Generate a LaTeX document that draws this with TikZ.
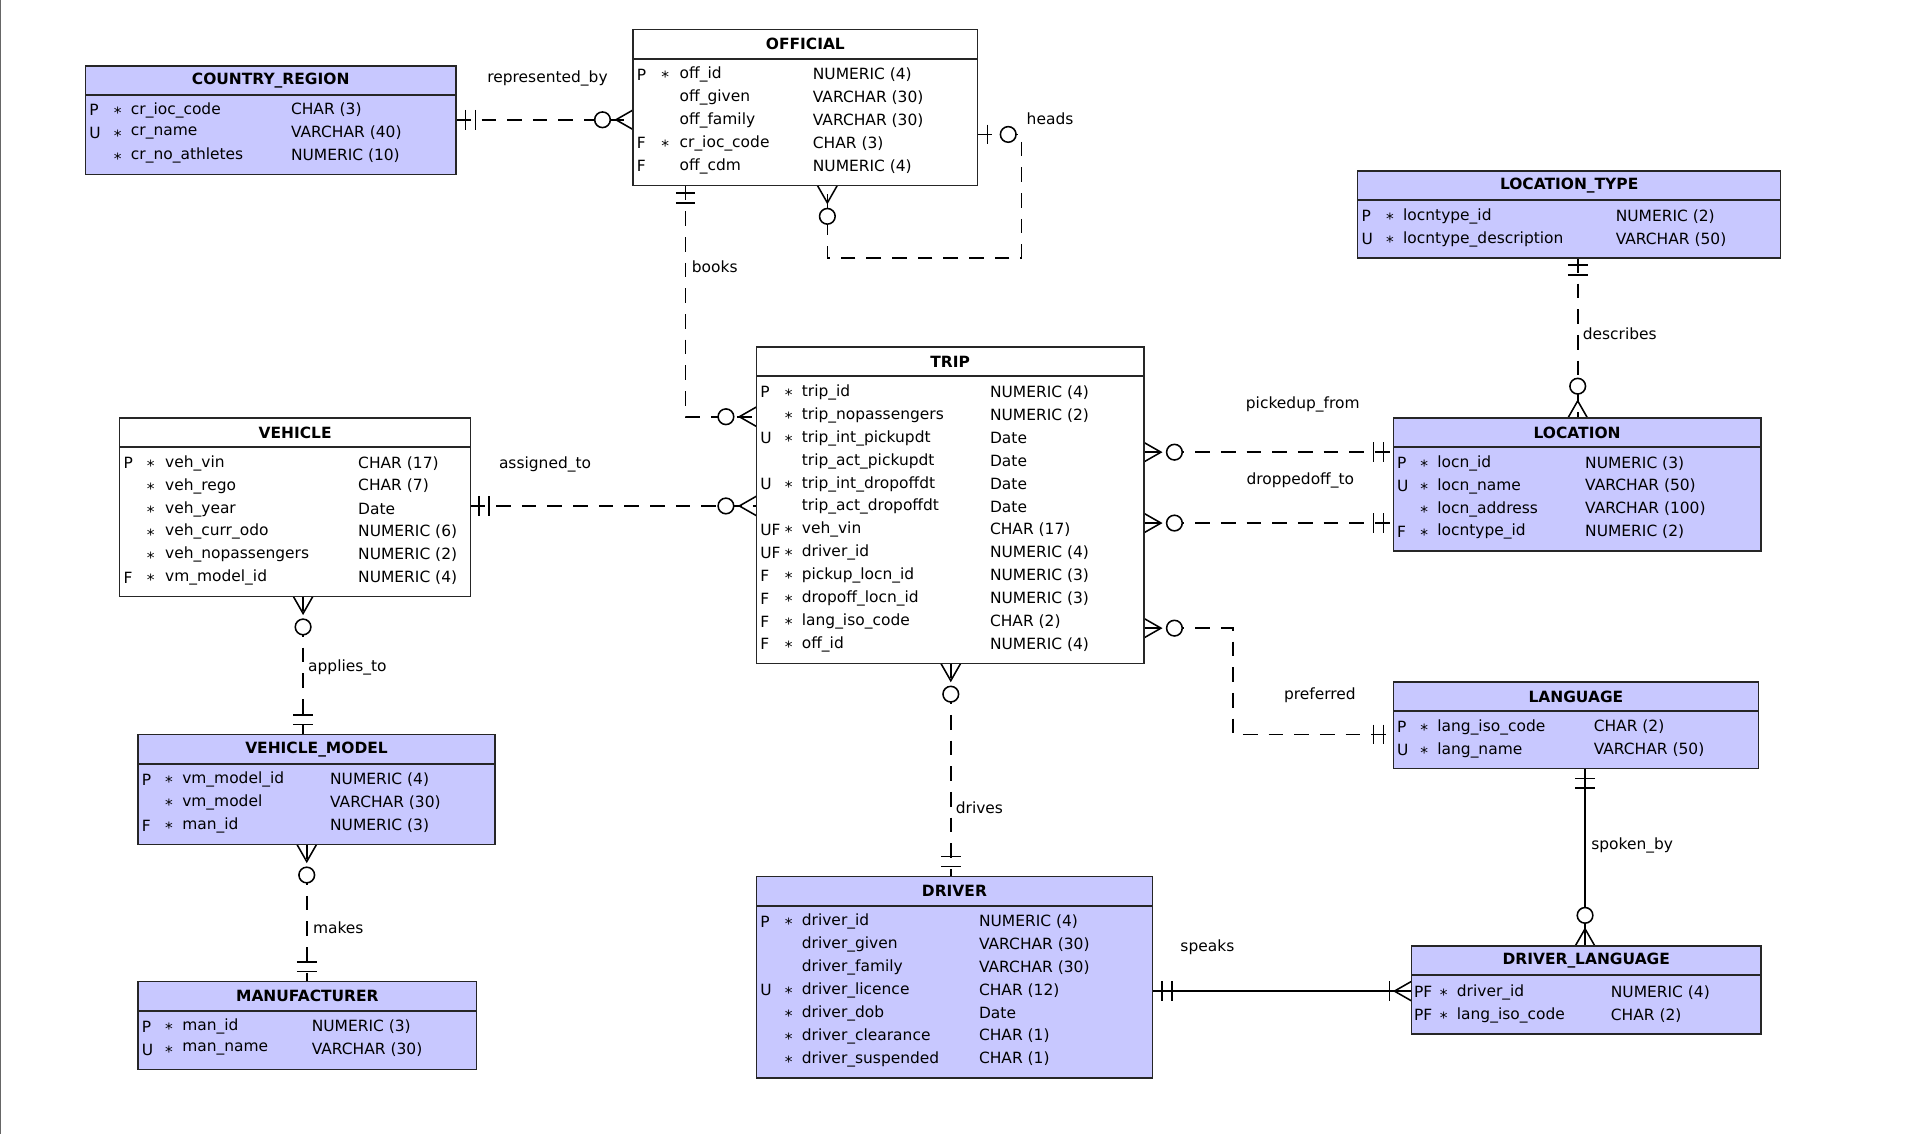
\documentclass[tikz,border=0pt]{standalone}
\usepackage{fontspec}
\setmainfont{DejaVu Sans}
\usetikzlibrary{fit}
\definecolor{ent}{RGB}{200,200,255}
\tikzset{
  box/.style={draw=black!85, line width=1.6pt, inner sep=0pt},
  txt/.style={anchor=west, inner sep=0pt, font=\fontsize{18}{20}\selectfont},
  ttl/.style={inner sep=0pt, font=\fontsize{18}{20}\selectfont\bfseries},
  rel/.style={line width=1.8pt, dash pattern=on 0.6cm off 0.45cm},
  sol/.style={line width=1.8pt},
  mk/.style={line width=1.8pt},
  lbl/.style={inner sep=0pt, font=\fontsize{18}{20}\selectfont},
}
\newcommand\ent[7]{%
  \node[box, fill=#7, fit={(#3,#4)(#5,#6)}] (#1) {};
  \draw[line width=2.4pt, black!85] (#3,#4+24) -- (#5,#4+24);
  \node[ttl] at ({(#3+#5)/2},#4+12) {#2};
}
\newcommand\rows[6]{%
  \foreach \f/\s/\n/\t [count=\i from 0] in {#6}{
    \node[txt] at (#1,#5+\i*18.75) {\f};
    \node[txt] at (#2,#5+\i*18.75+2) {\s};
    \node[txt] at (#3,#5+\i*18.75) {\n};
    \node[txt] at (#4,#5+\i*18.75) {\t};
  }%
}
\newcommand\crowH[3]{\draw[mk] (#1,#2-8) -- (#1+14*#3,#2) -- (#1,#2+8);}
\newcommand\crowV[3]{\draw[mk] (#1-8,#2) -- (#1,#2+14*#3) -- (#1+8,#2);}
\newcommand\rcirc[2]{\draw[mk, fill=white] (#1,#2) circle[radius=0.32cm];}
\newcommand\barH[2]{\draw[mk] (#1,#2-8) -- (#1,#2+8);}
\newcommand\barV[2]{\draw[mk] (#1-8,#2) -- (#1+8,#2);}
\begin{document}
\begin{tikzpicture}[x=0.05cm,y=-0.05cm]
\useasboundingbox (0,0) rectangle (1567,928);
\fill[white] (0,0) rectangle (1567,928);
\draw[black!60, line width=1pt] (0.5,0) -- (0.5,928);

% ---------- connectors ----------
% represented_by
\coordinate (rbA) at (373,98); \coordinate (rbB) at (518,98);
\draw[rel] (rbA) -- (rbB);
\barH{381}{98}\barH{389}{98}\crowH{518}{98}{-1}\rcirc{493}{98}
\node[lbl] at (448,64) {represented\_by};
% heads
\draw[rel] (800,110) -- (836,110) -- (836,211) -- (677,211) -- (677,152);
\barH{808}{110}\rcirc{825}{110}\crowV{677}{152}{1}\rcirc{677}{177}
\node[lbl,anchor=west] at (840,97) {heads};
% books
\draw[rel] (561,152) -- (561,341) -- (619,341);
\barV{561}{158}\barV{561}{166}\crowH{619}{341}{-1}\rcirc{594}{341}
\node[lbl,anchor=west] at (566,218) {books};
% assigned_to
\draw[rel] (385,414) -- (619,414);
\barH{392}{414}\barH{400}{414}\crowH{619}{414}{-1}\rcirc{594}{414}
\node[lbl] at (446,380) {assigned\_to};
% applies_to
\draw[rel] (248,488) -- (248,601);
\crowV{248}{488}{1}\rcirc{248}{513}\barV{248}{585}\barV{248}{593}
\node[lbl,anchor=west] at (252,546) {applies\_to};
% makes
\draw[rel] (251,691) -- (251,803);
\crowV{251}{691}{1}\rcirc{251}{716}\barV{251}{787}\barV{251}{795}
\node[lbl,anchor=west] at (256,759) {makes};
% describes
\draw[rel] (1291,211) -- (1291,342);
\barV{1291}{217}\barV{1291}{225}\rcirc{1291}{316}\crowV{1291}{342}{-1}
\node[lbl,anchor=west] at (1295,273) {describes};
% pickedup_from
\draw[rel] (936,370) -- (1140,370);
\crowH{936}{370}{1}\rcirc{961}{370}\barH{1124}{370}\barH{1132}{370}
\node[lbl] at (1066,331) {pickedup\_from};
% droppedoff_to
\draw[rel] (936,428) -- (1140,428);
\crowH{936}{428}{1}\rcirc{961}{428}\barH{1124}{428}\barH{1132}{428}
\node[lbl] at (1064,393) {droppedoff\_to};
% preferred
\draw[rel] (936,514) -- (1009,514) -- (1009,601) -- (1140,601);
\crowH{936}{514}{1}\rcirc{961}{514}\barH{1124}{601}\barH{1132}{601}
\node[lbl] at (1080,569) {preferred};
% drives
\draw[rel] (778,543) -- (778,717);
\crowV{778}{543}{1}\rcirc{778}{568}\barV{778}{701}\barV{778}{709}
\node[lbl,anchor=west] at (782,661) {drives};
% spoken_by
\draw[sol] (1297,629) -- (1297,774);
\barV{1297}{637}\barV{1297}{645}\rcirc{1297}{749}\crowV{1297}{774}{-1}
\node[lbl,anchor=west] at (1302,692) {spoken\_by};
% speaks
\draw[sol] (943,811) -- (1155,811);
\barH{951}{811}\barH{959}{811}\barH{1137}{811}\crowH{1155}{811}{-1}
\node[lbl] at (988,775) {speaks};

% ---------- entities ----------
\ent{cr}{COUNTRY\_REGION}{70}{54}{373}{143}{ent}
\rows{73}{93}{107}{238}{90}{P/*/cr\_ioc\_code/CHAR (3), U/*/cr\_name/VARCHAR (40), {}/*/cr\_no\_athletes/NUMERIC (10)}

\ent{off}{OFFICIAL}{518}{24}{800}{152}{white}
\rows{521}{541}{556}{665}{61}{P/*/off\_id/NUMERIC (4), {}/{}/off\_given/VARCHAR (30), {}/{}/off\_family/VARCHAR (30), F/*/cr\_ioc\_code/CHAR (3), F/{}/off\_cdm/NUMERIC (4)}

\ent{lt}{LOCATION\_TYPE}{1111}{140}{1457}{211}{ent}
\rows{1114}{1134}{1148}{1322}{177}{P/*/locntype\_id/NUMERIC (2), U/*/locntype\_description/VARCHAR (50)}

\ent{trip}{TRIP}{619}{284}{936}{543}{white}
\rows{622}{642}{656}{810}{321}{P/*/trip\_id/NUMERIC (4), {}/*/trip\_nopassengers/NUMERIC (2), U/*/trip\_int\_pickupdt/Date, {}/{}/trip\_act\_pickupdt/Date, U/*/trip\_int\_dropoffdt/Date, {}/{}/trip\_act\_dropoffdt/Date, UF/*/veh\_vin/CHAR (17), UF/*/driver\_id/NUMERIC (4), F/*/pickup\_locn\_id/NUMERIC (3), F/*/dropoff\_locn\_id/NUMERIC (3), F/*/lang\_iso\_code/CHAR (2), F/*/off\_id/NUMERIC (4)}

\ent{veh}{VEHICLE}{98}{342}{385}{488}{white}
\rows{101}{120}{135}{293}{379}{P/*/veh\_vin/CHAR (17), {}/*/veh\_rego/CHAR (7), {}/*/veh\_year/Date, {}/*/veh\_curr\_odo/NUMERIC (6), {}/*/veh\_nopassengers/NUMERIC (2), F/*/vm\_model\_id/NUMERIC (4)}

\ent{loc}{LOCATION}{1140}{342}{1441}{451}{ent}
\rows{1143}{1162}{1176}{1297}{379}{P/*/locn\_id/NUMERIC (3), U/*/locn\_name/VARCHAR (50), {}/*/locn\_address/VARCHAR (100), F/*/locntype\_id/NUMERIC (2)}

\ent{lang}{LANGUAGE}{1140}{558}{1439}{629}{ent}
\rows{1143}{1162}{1176}{1304}{595}{P/*/lang\_iso\_code/CHAR (2), U/*/lang\_name/VARCHAR (50)}

\ent{vm}{VEHICLE\_MODEL}{113}{601}{405}{691}{ent}
\rows{116}{135}{149}{270}{638}{P/*/vm\_model\_id/NUMERIC (4), {}/*/vm\_model/VARCHAR (30), F/*/man\_id/NUMERIC (3)}

\ent{drv}{DRIVER}{619}{717}{943}{882}{ent}
\rows{622}{642}{656}{801}{754}{P/*/driver\_id/NUMERIC (4), {}/{}/driver\_given/VARCHAR (30), {}/{}/driver\_family/VARCHAR (30), U/*/driver\_licence/CHAR (12), {}/*/driver\_dob/Date, {}/*/driver\_clearance/CHAR (1), {}/*/driver\_suspended/CHAR (1)}

\ent{dl}{DRIVER\_LANGUAGE}{1155}{774}{1441}{846}{ent}
\rows{1157}{1178}{1192}{1318}{812}{PF/*/driver\_id/NUMERIC (4), PF/*/lang\_iso\_code/CHAR (2)}

\ent{man}{MANUFACTURER}{113}{803}{390}{875}{ent}
\rows{116}{135}{149}{255}{840}{P/*/man\_id/NUMERIC (3), U/*/man\_name/VARCHAR (30)}
\end{tikzpicture}
\end{document}
